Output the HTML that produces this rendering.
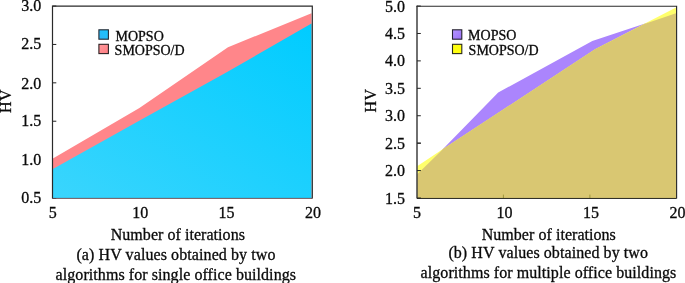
<!DOCTYPE html>
<html><head><meta charset="utf-8"><title>HV values</title>
<style>
html,body{margin:0;padding:0;background:#fff;}
body{width:685px;height:283px;overflow:hidden;}
svg{display:block;}
text{font-family:"Liberation Serif","Times New Roman",serif;fill:#0a0a0a;stroke:#0a0a0a;stroke-width:0.3px;}
.t16{font-size:16px;}
.t14{font-size:14px;}
.tk{stroke:#222;stroke-width:1;}
.ax{fill:none;stroke:#2a2a2a;stroke-width:1.2;}
</style></head><body>
<svg width="685" height="283" viewBox="0 0 685 283">
<defs>
<linearGradient id="gb" x1="0" y1="1" x2="1" y2="0">
<stop offset="0" stop-color="#3ad5fd"/><stop offset="1" stop-color="#00ccff"/>
</linearGradient>
<linearGradient id="gs" x1="0" y1="1" x2="1" y2="0">
<stop offset="0" stop-color="#2fb4f4"/><stop offset="1" stop-color="#19c6ff"/>
</linearGradient>
<linearGradient id="gp" x1="0" y1="0" x2="1" y2="1">
<stop offset="0" stop-color="#b494ff"/><stop offset="1" stop-color="#9a70f6"/>
</linearGradient>
<linearGradient id="gr" x1="0" y1="0" x2="1" y2="1">
<stop offset="0" stop-color="#ff9a9c"/><stop offset="1" stop-color="#ff7c82"/>
</linearGradient>
</defs>
<rect width="685" height="283" fill="#fff"/>

<!-- left chart -->
<line x1="52.5" y1="6.05" x2="56.3" y2="6.05" class="tk"/>
<text x="41.2" y="11.45" text-anchor="end" class="t16">3.0</text>
<line x1="52.5" y1="44.44" x2="56.3" y2="44.44" class="tk"/>
<text x="41.2" y="49.04" text-anchor="end" class="t16">2.5</text>
<line x1="52.5" y1="82.83" x2="56.3" y2="82.83" class="tk"/>
<text x="41.2" y="88.93" text-anchor="end" class="t16">2.0</text>
<line x1="52.5" y1="121.22" x2="56.3" y2="121.22" class="tk"/>
<text x="41.2" y="126.32" text-anchor="end" class="t16">1.5</text>
<line x1="52.5" y1="159.61" x2="56.3" y2="159.61" class="tk"/>
<text x="41.2" y="165.01" text-anchor="end" class="t16">1.0</text>
<line x1="52.5" y1="198.00" x2="56.3" y2="198.00" class="tk"/>
<text x="41.2" y="203.00" text-anchor="end" class="t16">0.5</text>
<polygon points="52.9,198.0 52.9,158.4 139.4,108.0 228.0,47.3 311.5,13.2 311.5,198.0" fill="#ff868a"/>
<polygon points="52.9,198.0 52.9,169.0 139.2,120.8 225.8,72.8 311.5,23.5 311.5,198.0" fill="url(#gb)"/>
<line x1="52.5" y1="198.4" x2="312.3" y2="198.4" stroke="#4a2c34" stroke-width="0.8"/>
<path d="M52.5,198.45 V6.2 H312.3 V198.45" class="ax"/>
<rect x="98.9" y="29.8" width="9.5" height="9.4" fill="url(#gs)" stroke="#252a33" stroke-width="1.1"/>
<rect x="98.9" y="44.3" width="9.5" height="9.3" fill="url(#gr)" stroke="#2e2224" stroke-width="1.1"/>
<text x="115.5" y="40.6" class="t14">MOPSO</text>
<text x="114.6" y="55" class="t14">SMOPSO/D</text>
<text transform="translate(11.3,101.1) rotate(-90)" text-anchor="middle" class="t16" letter-spacing="0.3">HV</text>
<text x="52.7" y="218" text-anchor="middle" class="t16">5</text>
<text x="140.3" y="217.8" text-anchor="middle" class="t16">10</text>
<text x="226.5" y="217.8" text-anchor="middle" class="t16">15</text>
<text x="313.1" y="217.8" text-anchor="middle" class="t16">20</text>
<text x="110.7" y="240.3" class="t16" letter-spacing="0.05">Number of iterations</text>
<text x="76.4" y="260.0" class="t16" letter-spacing="0.09">(a) HV values obtained by two</text>
<text x="55.6" y="279.5" class="t16" letter-spacing="0.068">algorithms for single office buildings</text>

<!-- right chart -->
<line x1="417.0" y1="6.05" x2="420.8" y2="6.05" class="tk"/>
<text x="405" y="11.85" text-anchor="end" class="t16">5.0</text>
<line x1="417.0" y1="33.47" x2="420.8" y2="33.47" class="tk"/>
<text x="405" y="39.27" text-anchor="end" class="t16">4.5</text>
<line x1="417.0" y1="60.89" x2="420.8" y2="60.89" class="tk"/>
<text x="405" y="66.29" text-anchor="end" class="t16">4.0</text>
<line x1="417.0" y1="88.31" x2="420.8" y2="88.31" class="tk"/>
<text x="405" y="93.71" text-anchor="end" class="t16">3.5</text>
<line x1="417.0" y1="115.74" x2="420.8" y2="115.74" class="tk"/>
<text x="405" y="121.14" text-anchor="end" class="t16">3.0</text>
<line x1="417.0" y1="143.16" x2="420.8" y2="143.16" class="tk"/>
<text x="405" y="148.56" text-anchor="end" class="t16">2.5</text>
<line x1="417.0" y1="170.58" x2="420.8" y2="170.58" class="tk"/>
<text x="405" y="175.98" text-anchor="end" class="t16">2.0</text>
<line x1="417.0" y1="198.00" x2="420.8" y2="198.00" class="tk"/>
<text x="405" y="204.00" text-anchor="end" class="t16">1.5</text>
<polygon points="417.4,198.0 417.5,174.0 443.2,148.8 498.2,92.5 592.3,41.1 676.0,13.3 676.0,198.0" fill="#ab85fd"/>
<polygon points="417.4,198.0 417.5,166.1 443.4,148.7 504.0,109.0 595.0,49.3 676.0,7.4 676.0,198.0" fill="#ffff6c"/>
<polygon points="417.4,198.0 417.5,174.0 443.1,148.9 443.2,148.8 443.4,148.7 498.2,112.8 504.0,109.0 592.3,51.1 595.0,49.3 644.4,23.9 676.0,13.3 676.0,198.0" fill="#d9c772"/>
<line x1="417.0" y1="143.16" x2="420.9" y2="143.16" class="tk"/>
<line x1="417.0" y1="170.58" x2="420.9" y2="170.58" class="tk"/>
<line x1="417.0" y1="198" x2="420.9" y2="198" class="tk"/>
<line x1="503.4" y1="194.6" x2="503.4" y2="198" stroke="#8f8a2e" stroke-width="1" opacity="0.8"/>
<line x1="589.9" y1="194.6" x2="589.9" y2="198" stroke="#8f8a2e" stroke-width="1" opacity="0.8"/>
<line x1="417.0" y1="198.45" x2="676.6" y2="198.45" stroke="#26261c" stroke-width="1"/>
<path d="M417.0,198.45 V5.6499999999999995" class="ax" style="stroke-width:1.35"/>
<path d="M416.4,6.2 H676.6 V198.45" class="ax" style="stroke-width:1.15"/>
<rect x="452.5" y="29.8" width="9.3" height="9.4" fill="url(#gp)" stroke="#25222e" stroke-width="1.1"/>
<rect x="452.5" y="44.3" width="9.3" height="9.3" fill="#ffff10" stroke="#2a2a1c" stroke-width="1.1"/>
<text x="468.1" y="39.6" class="t14">MOPSO</text>
<text x="468.6" y="54.5" class="t14">SMOPSO/D</text>
<text transform="translate(375.7,100.6) rotate(-90)" text-anchor="middle" class="t16" letter-spacing="0.3">HV</text>
<text x="417" y="218" text-anchor="middle" class="t16">5</text>
<text x="504.6" y="217.8" text-anchor="middle" class="t16">10</text>
<text x="591" y="217.8" text-anchor="middle" class="t16">15</text>
<text x="677.6" y="217.8" text-anchor="middle" class="t16">20</text>
<text x="481.7" y="240.3" class="t16" letter-spacing="0.045">Number of iterations</text>
<text x="448.4" y="258.0" class="t16" letter-spacing="0.075">(b) HV values obtained by two</text>
<text x="420.6" y="278.0" class="t16" letter-spacing="0.07">algorithms for multiple office buildings</text>
</svg>
</body></html>
